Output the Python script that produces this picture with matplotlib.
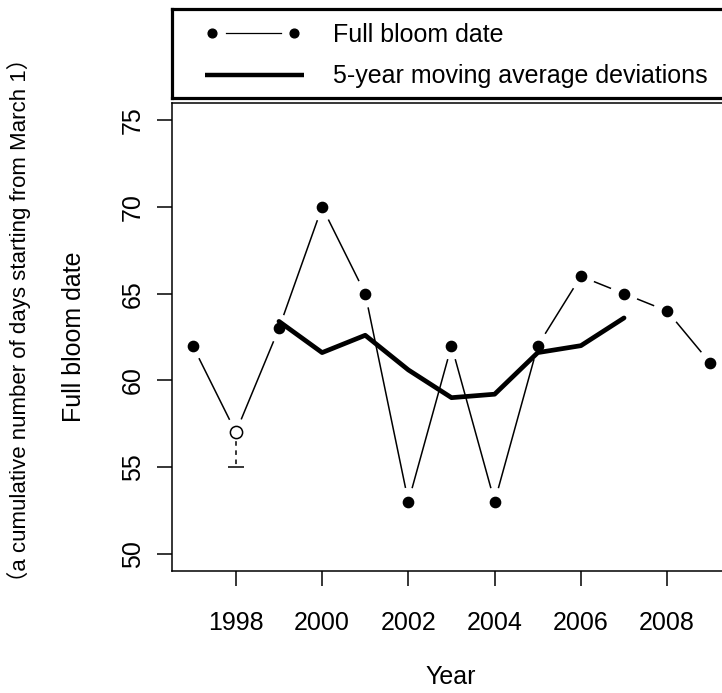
import numpy as np
import matplotlib
matplotlib.use("Agg")
import matplotlib.pyplot as plt

plt.rcParams['font.family'] = ['Liberation Sans', 'Noto Sans CJK JP', 'DejaVu Sans']

# data
years = [1997, 1998, 1999, 2000, 2001, 2002, 2003, 2004, 2005, 2006, 2007, 2008, 2009]
bloom = [62, 57, 63, 70, 65, 53, 62, 53, 62, 66, 65, 64, 61]
open_year = 1998          # drawn as open circle with a dashed lower bar
open_low = 55
ma_years = [1999, 2000, 2001, 2002, 2003, 2004, 2005, 2006, 2007]
ma_vals = [63.4, 61.6, 62.6, 60.6, 59.0, 59.2, 61.6, 62.0, 63.6]
xticks = [1998, 2000, 2002, 2004, 2006, 2008]
yticks = [50, 55, 60, 65, 70, 75]

W, H = 722, 693
fig = plt.figure(figsize=(W / 100, H / 100), dpi=100)

def px(x0, y0, x1, y1):
    # pixel box (top-left origin) -> figure fraction rect
    return [x0 / W, 1 - y1 / H, (x1 - x0) / W, (y1 - y0) / H]

ax = fig.add_axes(px(172, 103, 731, 571))
ax.set_xlim(1996.52, 2009.48)
ax.set_ylim(49, 76)
for s in ax.spines.values():
    s.set_linewidth(1.1)
ax.set_xticks(xticks)
ax.set_yticks(yticks)
ax.tick_params(axis='both', direction='out', length=10.5, width=1.1, labelsize=18)
ax.tick_params(axis='x', pad=18)
ax.tick_params(axis='y', pad=9)
for lab in ax.get_yticklabels():
    lab.set_rotation(90)
    lab.set_va('center')

# thin connecting lines, R type="b" style (gaps round the points)
gap = 14
P = ax.transData.transform(np.column_stack([years, bloom]))
inv = ax.transData.inverted()
for a, b in zip(P[:-1], P[1:]):
    d = b - a
    L = np.hypot(*d)
    if L <= 2 * gap:
        continue
    u = d / L
    seg = inv.transform(np.array([a + u * gap, b - u * gap]))
    ax.plot(seg[:, 0], seg[:, 1], color='black', lw=1.1, solid_capstyle='butt', zorder=2)

# moving average
ax.plot(ma_years, ma_vals, color='black', lw=3.4, solid_capstyle='round',
        solid_joinstyle='round', zorder=3)

# dashed lower bar at the open point
i_open = years.index(open_year)
ax.plot([open_year, open_year], [bloom[i_open], open_low], color='black', lw=1.1,
        dashes=(3, 3), zorder=2)
ax.plot([open_year], [open_low], marker='_', color='black', markersize=11, mew=1.1, zorder=2)

filled_x = [x for x in years if x != open_year]
filled_y = [y for x, y in zip(years, bloom) if x != open_year]
ax.plot(filled_x, filled_y, 'o', color='black', markersize=7.4, zorder=4)
ax.plot([open_year], [bloom[i_open]], 'o', mfc='white', mec='black', mew=1.1,
        markersize=8.8, zorder=4)

# legend box
lax = fig.add_axes(px(172, 9, 760, 98))
lax.set_xlim(172, 760)
lax.set_ylim(98, 9)
lax.set_xticks([])
lax.set_yticks([])
for s in lax.spines.values():
    s.set_linewidth(2.3)
lax.plot([212, 294], [33, 33], 'o', color='black', markersize=6.3)
lax.plot([226, 281], [33, 33], color='black', lw=0.9)
lax.plot([205, 304], [75, 75], color='black', lw=3.2, solid_capstyle='butt')
lax.text(333, 42, 'Full bloom date', fontsize=18, va='baseline', ha='left')
lax.text(333, 83, '5-year moving average deviations', fontsize=18, va='baseline', ha='left')

# axis titles
fig.text(451 / W, 1 - 677 / H, 'Year', fontsize=18, ha='center', va='center')
fig.text(74 / W, 1 - 337 / H, 'Full bloom date', fontsize=18, rotation=90,
         ha='center', va='center')
fig.text(19 / W, 1 - 320 / H, '（a cumulative number of days starting from March 1）',
         fontsize=16, rotation=90, ha='center', va='center')

fig.savefig('out.png', dpi=100)
